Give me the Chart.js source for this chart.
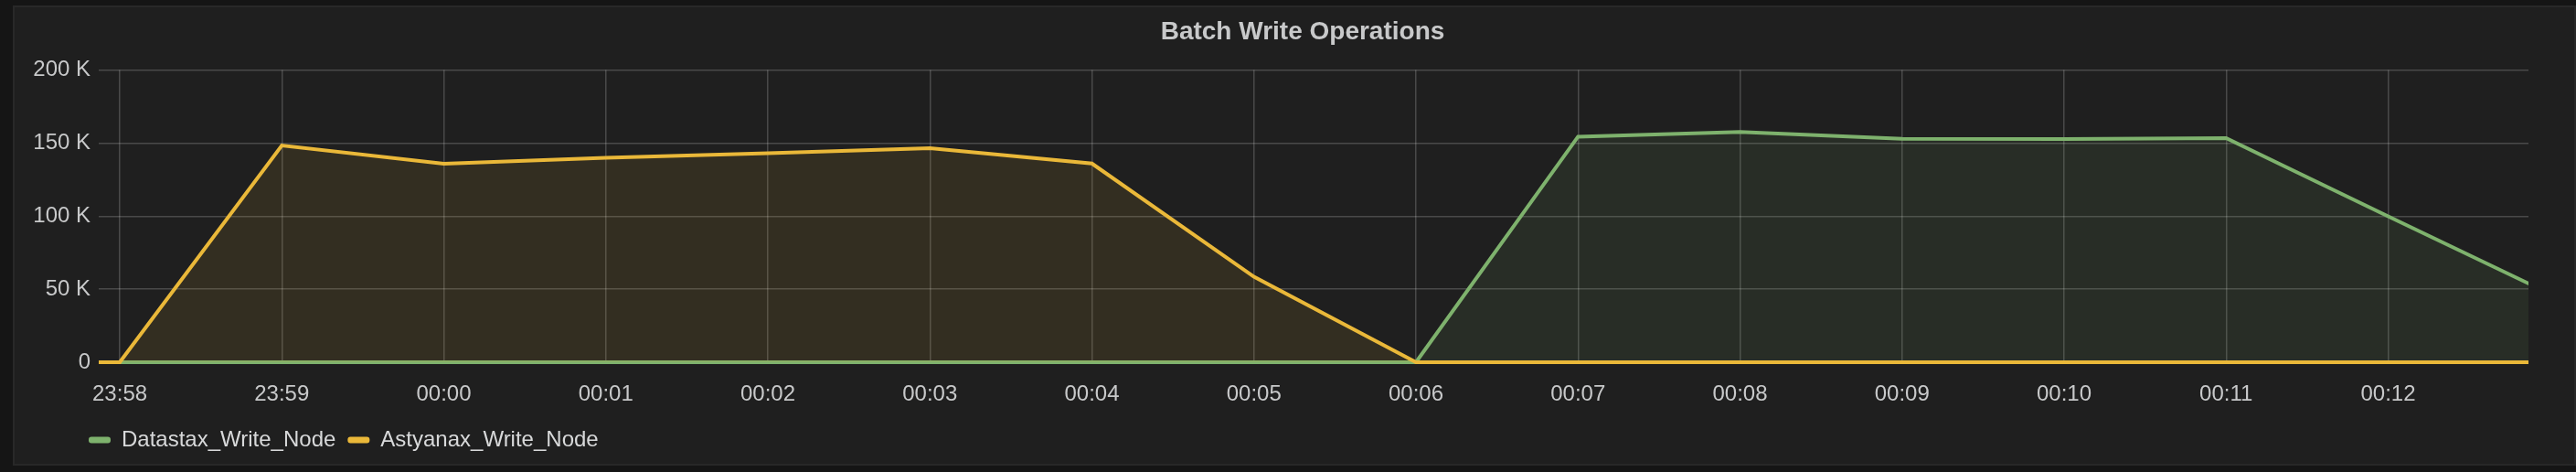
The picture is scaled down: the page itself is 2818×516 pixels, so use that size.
<!DOCTYPE html>
<html>
<head>
<meta charset="utf-8">
<script src="https://cdn.jsdelivr.net/npm/chart.js@4.4.1/dist/chart.umd.min.js"></script>
<style>
  html, body { margin: 0; padding: 0; background: #151515; }
  #panel {
    position: absolute; left: 14px; top: 6px; width: 2804px; height: 503px;
    box-sizing: border-box; background: #1f1f1f; border: 2px solid #282828;
  }
  #chart { position: absolute; left: 0; top: 0; }
</style>
</head>
<body>
<div id="panel"></div>
<canvas id="chart" width="2818" height="516"></canvas>
<script>
// one point per minute, 23:57 is just off the left edge, 00:13 off the right
const timeLabels = ["23:57", "23:58", "23:59", "00:00", "00:01", "00:02", "00:03", "00:04",
  "00:05", "00:06", "00:07", "00:08", "00:09", "00:10", "00:11", "00:12", "00:13"];

const datastaxWrites = [null, 0, 0, 0, 0, 0, 0, 0, 0, 0,
  154400, 157600, 153000, 152800, 153400, 99900, 46800];

const astyanaxWrites = [0, 0, 148400, 135900, 140000, 143100, 146500, 136000,
  58500, 0, 0, 0, 0, 0, 0, 0, 0];

const yTickLabels = ["0", "50 K", "100 K", "150 K", "200 K"];

const xMin = 0.87;   // visible window: 23:57:52 .. 00:12:52
const xMax = 15.866;

function toPoints(values) {
  return values.map((v, i) => ({ x: i, y: v }));
}

const font = "'Liberation Sans', Arial, Helvetica, sans-serif";
const textColor = "#c8c9ca";
const gridColor = "rgba(255, 255, 255, 0.19)";

// y labels are mirrored (so they are not clipped to the narrow axis box)
// and pulled back left of the plot by the widest label
const measureCtx = document.createElement("canvas").getContext("2d");
measureCtx.font = "24px " + font;
const widestYLabel = Math.max(...yTickLabels.map((t) => measureCtx.measureText(t).width));

new Chart(document.getElementById("chart").getContext("2d"), {
  type: "line",
  data: {
    datasets: [
      {
        label: "Datastax_Write_Node",
        data: toPoints(datastaxWrites),
        borderColor: "#7eb26d",
        backgroundColor: "rgba(126, 178, 109, 0.1)",
        fill: "origin",
        order: 1,
      },
      {
        label: "Astyanax_Write_Node",
        data: toPoints(astyanaxWrites),
        borderColor: "#eab839",
        backgroundColor: "rgba(234, 184, 57, 0.1)",
        fill: "origin",
        order: 0,
      },
    ],
  },
  options: {
    responsive: false,
    animation: false,
    devicePixelRatio: 1,
    layout: { padding: { left: 84, right: 52, top: 0, bottom: 13 } },
    elements: {
      line: { borderWidth: 4, tension: 0 },
      point: { radius: 0 },
    },
    datasets: {
      line: { clip: { left: 0, right: 0, top: 4, bottom: 4 }, spanGaps: false },
    },
    plugins: {
      tooltip: { enabled: false },
      title: {
        display: true,
        text: "Batch Write Operations",
        color: textColor,
        font: { family: font, size: 28, weight: "bold" },
        padding: { top: 18, bottom: 25 },
      },
      legend: {
        position: "bottom",
        align: "start",
        labels: {
          color: "#d8d9da",
          font: { family: font, size: 24 },
          boxWidth: 24,
          boxHeight: 7,
          padding: 13,
          generateLabels: (chart) =>
            chart.data.datasets.map((ds, i) => ({
              text: ds.label,
              fillStyle: ds.borderColor,
              strokeStyle: ds.borderColor,
              fontColor: "#d8d9da",
              lineWidth: 0,
              borderRadius: 3,
              hidden: false,
              datasetIndex: i,
            })),
        },
      },
    },
    scales: {
      x: {
        type: "linear",
        min: xMin,
        max: xMax,
        grid: { color: gridColor, lineWidth: 1.5, drawTicks: false },
        border: { display: false },
        afterBuildTicks: (scale) => {
          scale.ticks = timeLabels
            .map((t, i) => ({ value: i }))
            .filter((t) => t.value >= xMin && t.value <= xMax);
        },
        afterFit: (scale) => { scale.height = 60; },
        ticks: {
          autoSkip: false,
          maxRotation: 0,
          padding: 21,
          color: textColor,
          font: { family: font, size: 24 },
          callback: (v) => timeLabels[v],
        },
      },
      y: {
        min: 0,
        max: 200000,
        grid: { color: gridColor, lineWidth: 1.5, drawTicks: false },
        border: { display: false },
        afterFit: (scale) => { scale.width = 24; },
        ticks: {
          stepSize: 50000,
          mirror: true,
          crossAlign: "far",
          padding: -(9 + widestYLabel),
          color: textColor,
          font: { family: font, size: 24 },
          callback: (v) => yTickLabels[v / 50000],
        },
      },
    },
  },
});
</script>
</body>
</html>
